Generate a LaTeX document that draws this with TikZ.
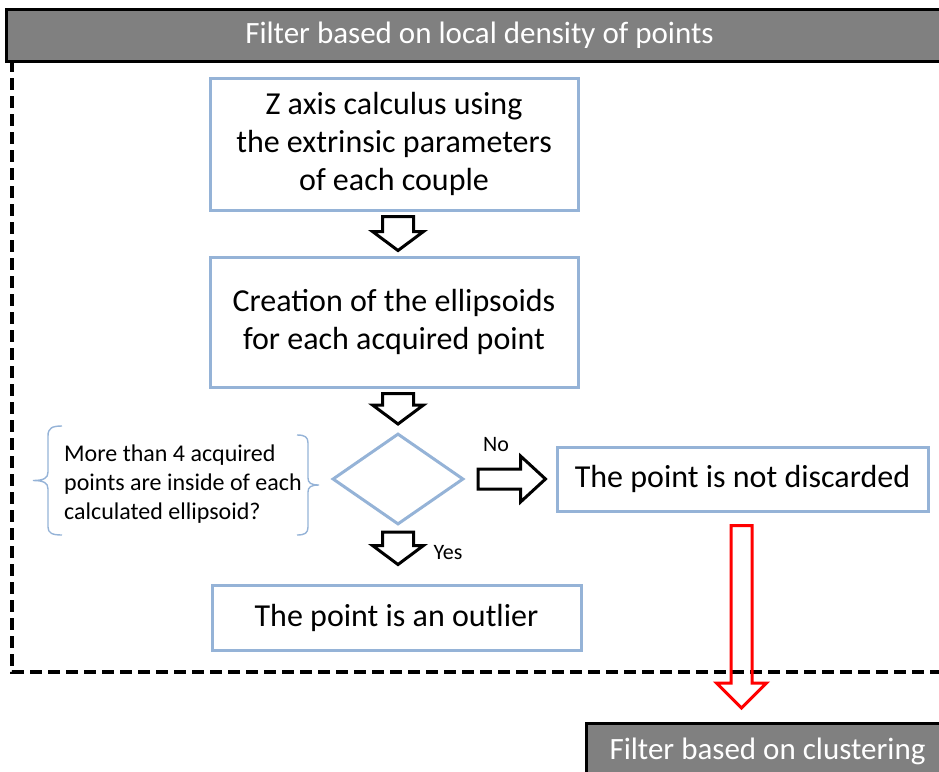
\documentclass[tikz,border=0pt]{standalone}
\usepackage{fontspec}
\setmainfont{Carlito}
\usetikzlibrary{shapes.geometric,calc}

\definecolor{boxblue}{RGB}{149,179,215}
\definecolor{headgray}{RGB}{128,128,128}
\definecolor{arrowred}{RGB}{255,0,0}

% Hollow block arrow pointing down: start, end, shaft half width, head half width, head length, style
\newcommand\BlockDown[6]{%
  \draw[#6] let \p1=#1, \p2=#2 in
    (\x1-#3,\y1) -- (\x1+#3,\y1) -- (\x1+#3,\y2+#5) -- (\x1+#4,\y2+#5)
    -- (\x1,\y2) -- (\x1-#4,\y2+#5) -- (\x1-#3,\y2+#5) -- cycle;}
% Hollow block arrow pointing right
\newcommand\BlockRight[6]{%
  \draw[#6] let \p1=#1, \p2=#2 in
    (\x1,\y1+#3) -- (\x2-#5,\y1+#3) -- (\x2-#5,\y1+#4) -- (\x2,\y1)
    -- (\x2-#5,\y1-#4) -- (\x2-#5,\y1-#3) -- (\x1,\y1-#3) -- cycle;}

\begin{document}
\begin{tikzpicture}[x=1pt,y=-1pt,
  header/.style={draw=black, fill=headgray, line width=3pt, text=white,
    font=\fontsize{31}{36}\selectfont, inner sep=0pt},
  stepbox/.style={draw=boxblue, line width=3pt, align=center,
    font=\fontsize{32}{38}\selectfont, inner sep=0pt},
  decision/.style={diamond, draw=boxblue, line width=3pt, inner sep=0pt},
  bracket/.style={draw=boxblue, line width=1.4pt},
  blockarrow/.style={draw=black, line width=3pt, line join=miter},
  redarrow/.style={draw=arrowred, line width=3pt, line join=miter},
  small/.style={font=\fontsize{24}{29}\selectfont, align=left, inner sep=0pt},
  tag/.style={font=\fontsize{22}{26}\selectfont, inner sep=0pt}]
\useasboundingbox (0,0) rectangle (939,771);

% dashed frame of the density filter
\draw[black, line width=3.5pt, dash pattern=on 12pt off 6pt] (12,60) -- (12,672) -- (950,672);

% headers
\node[header, minimum width=946pt, minimum height=52pt, anchor=north west] (h1) at (5,8)
  {Filter based on local density of points};
\node[header, minimum width=362pt, minimum height=56pt, anchor=north west] (h2) at (585,722)
  {Filter based on clustering};

% process boxes
\node[stepbox, minimum width=368pt, minimum height=132pt] (b1) at (394,144)
  {Z axis calculus using\\the extrinsic parameters\\of each couple};
\node[stepbox, minimum width=368pt, minimum height=130pt] (b2) at (394,322)
  {Creation of the ellipsoids\\for each acquired point};
\node[decision, minimum width=131pt, minimum height=91pt] (d) at (398,479) {};
\node[stepbox, minimum width=371pt, minimum height=64pt] (b3) at (742.5,479)
  {The point is not discarded};
\node[stepbox, minimum width=369pt, minimum height=65pt] (b4) at (396.5,617.5)
  {The point is an outlier};

% question with its brackets
\node[small, anchor=west] (q) at (64,484)
  {More than 4 acquired\\points are inside of each\\calculated ellipsoid?};
\draw[bracket] (62,426) .. controls (52,426) and (48,428) .. (48,436) -- (48,472)
  .. controls (48,478) and (44,480.5) .. (33,480.5)
  .. controls (44,480.5) and (48,483) .. (48,489) -- (48,527)
  .. controls (48,533) and (52,535) .. (62,535);
\draw[bracket] (297,435) .. controls (305,435) and (308,437) .. (308,443) -- (308,478)
  .. controls (308,483) and (311,485) .. (319,485)
  .. controls (311,485) and (308,487) .. (308,492) -- (308,527)
  .. controls (308,533) and (305,535) .. (297,535);

% labels of the decision
\node[tag] (no) at (496,445) {No};
\node[tag] (yes) at (448,553) {Yes};

% connectors
\BlockDown{($(b1.south -| d.north)+(0,-5pt)$)}{($(b2.north -| d.north)+(0,5pt)$)}{15.5pt}{25.5pt}{19pt}{blockarrow}
\BlockDown{($(b2.south -| d.north)+(0,-5pt)$)}{($(d.north)+(0,8pt)$)}{15.5pt}{25.5pt}{19pt}{blockarrow}
\BlockDown{($(d.south)+(0,-6pt)$)}{($(b4.north -| d.south)+(0,19pt)$)}{15.5pt}{25.5pt}{19pt}{blockarrow}
\BlockRight{($(d.east)+(13pt,0)$)}{($(b3.west)+(-10pt,0)$)}{10pt}{23pt}{25pt}{blockarrow}
\BlockDown{($(b3.south)+(-1pt,-13pt)$)}{($(b3.south |- h2.north)+(-1pt,14pt)$)}{10.5pt}{25pt}{25pt}{redarrow}
\end{tikzpicture}
\end{document}
